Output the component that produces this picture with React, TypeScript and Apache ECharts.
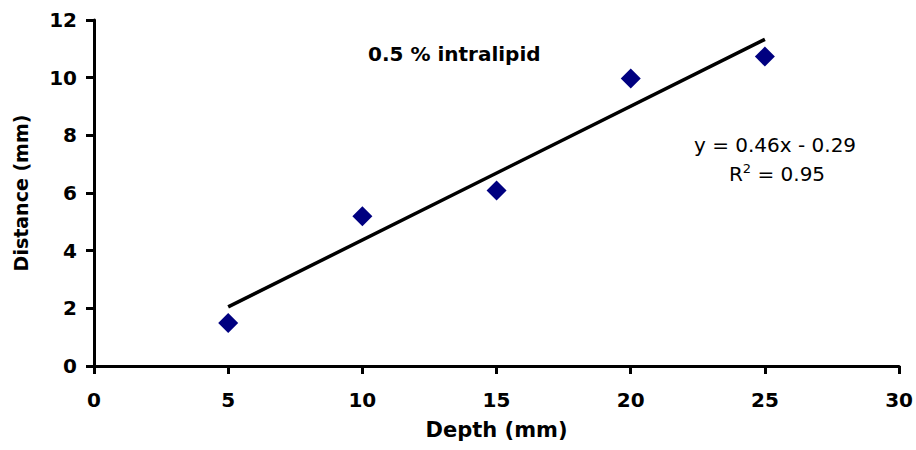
import React, { useEffect, useRef } from "react";
import * as echarts from "echarts";

const depth = [5, 10, 15, 20, 25];
const distance = [1.49, 5.19, 6.09, 9.97, 10.73];
const trendX = [5, 25];
const trendY = [2.05, 11.33];
const titleText = "0.5 % intralipid";
const equationText = "y = 0.46x - 0.29";
const r2Value = "0.95";
const xName = "Depth (mm)";
const yName = "Distance (mm)";

const FONT = "DejaVu Sans";

export default function App() {
  const ref = useRef<HTMLDivElement>(null);
  useEffect(() => {
    if (!ref.current) return;
    const chart = echarts.init(ref.current, null, { renderer: "svg" });
    const axisCommon = {
      axisLine: { show: true, onZero: false, lineStyle: { color: "#000", width: 3 } },
      axisTick: { show: true, inside: false, length: 8, lineStyle: { color: "#000", width: 3 } },
      splitLine: { show: false },
      nameLocation: "middle" as const,
      nameTextStyle: { fontFamily: FONT, fontWeight: "bold" as const, color: "#000" },
    };
    chart.setOption({
      animation: false,
      backgroundColor: "#fff",
      grid: { left: 94, right: 16, top: 20, bottom: 84 },
      xAxis: {
        type: "value",
        min: 0,
        max: 30,
        interval: 5,
        name: xName,
        nameGap: 53,
        ...axisCommon,
        nameTextStyle: { ...axisCommon.nameTextStyle, fontSize: 21 },
        axisLabel: { margin: 24, fontFamily: FONT, fontWeight: "bold", fontSize: 20, color: "#000" },
      },
      yAxis: {
        type: "value",
        min: 0,
        max: 12,
        interval: 2,
        name: yName,
        nameGap: 64,
        ...axisCommon,
        nameTextStyle: { ...axisCommon.nameTextStyle, fontSize: 19 },
        axisLabel: { margin: 17, fontFamily: FONT, fontWeight: "bold", fontSize: 20, color: "#000" },
      },
      series: [
        {
          type: "line",
          data: trendX.map((x, i) => [x, trendY[i]]),
          showSymbol: false,
          symbol: "none",
          lineStyle: { color: "#000", width: 3.5 },
          z: 2,
        },
        {
          type: "scatter",
          data: depth.map((x, i) => [x, distance[i]]),
          symbol: "diamond",
          symbolSize: 20,
          itemStyle: { color: "#000080", opacity: 1 },
          z: 3,
        },
      ],
      graphic: [
        {
          type: "text",
          x: 368,
          y: 54,
          style: {
            text: titleText,
            fontFamily: FONT,
            fontWeight: "bold",
            fontSize: 20,
            fill: "#000",
            textAlign: "left",
            textVerticalAlign: "middle",
          },
        },
        {
          type: "text",
          x: 775,
          y: 145,
          style: {
            text: equationText,
            fontFamily: FONT,
            fontSize: 20,
            fill: "#000",
            textAlign: "center",
            textVerticalAlign: "middle",
          },
        },
        {
          type: "text",
          x: 777,
          y: 173,
          style: {
            text: "{r|R}{s|2}{r| = " + r2Value + "}",
            fontFamily: FONT,
            fontSize: 20,
            fill: "#000",
            textAlign: "center",
            textVerticalAlign: "middle",
            rich: {
              r: { fontFamily: FONT, fontSize: 20, lineHeight: 22, fill: "#000", verticalAlign: "bottom" },
              s: { fontFamily: FONT, fontSize: 13, lineHeight: 16, fill: "#000", verticalAlign: "top" },
            },
          },
        },
      ],
    });
    return () => chart.dispose();
  }, []);
  return (
    <div
      ref={ref}
      style={{ position: "absolute", left: 0, top: 0, width: 916, height: 450 }}
    />
  );
}
